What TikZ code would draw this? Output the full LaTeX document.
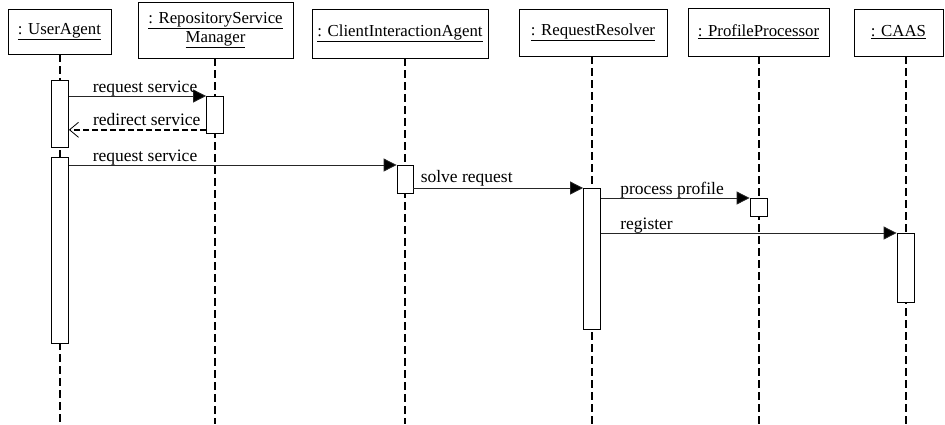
\documentclass[tikz,border=0pt]{standalone}
\usepackage{fontspec}
\setmainfont{Liberation Serif}
\usetikzlibrary{calc,positioning,arrows.meta}

\tikzset{
  objbox/.style={draw, line width=0.8pt, inner sep=2pt, align=center, font=\fontsize{16.8}{19}\selectfont},
  lifeline/.style={line width=2pt, dash pattern=on 8pt off 4pt},
  act/.style={draw, fill=white, line width=0.8pt, minimum width=17pt, inner sep=0pt, anchor=north},
  msg/.style={draw=black!85, line width=0.8pt, -{Triangle[length=13pt,width=13pt,fill=black]}},
  reply/.style={line width=1.4pt, dash pattern=on 6pt off 3pt, -{Straight Barb[length=9pt,width=15pt,line width=0.8pt]}},
  lbl/.style={anchor=base west, inner sep=0pt, yshift=4pt, font=\fontsize{17.5}{20}\selectfont},
}

\begin{document}
\begin{tikzpicture}[x=1pt,y=-1pt]
        \useasboundingbox (0,0) rectangle (945,424);
        % objects
        \node[objbox, minimum width=103pt, minimum height=45pt] (ua) at (59.5,31.5) {\underline{: UserAgent}};
        \node[objbox, minimum width=155pt, minimum height=56pt] (rsm) at (215.5,30) {\underline{: RepositoryService}\\\underline{Manager}};
        \node[objbox, minimum width=176pt, minimum height=49pt] (cia) at (400,33.5) {\underline{: ClientInteractionAgent}};
        \node[objbox, minimum width=148pt, minimum height=47pt] (rr) at (593,32.5) {\underline{: RequestResolver}};
        \node[objbox, minimum width=141pt, minimum height=48pt] (pp) at (758.5,32) {\underline{: ProfileProcessor}};
        \node[objbox, minimum width=89pt, minimum height=47pt] (caas) at (898.5,32.5) {\underline{: CAAS}};

        \foreach \n/\x in {ua/60,rsm/215,cia/405,rr/592,pp/759,caas/906}
          \draw[lifeline] (\n.south -| \x,0) -- (\x,424);

        % activations
        \node[act, minimum height=67pt] (ua1) at (60,80) {};
        \node[act, minimum height=186pt] (ua2) at (60,157) {};
        \node[act, minimum height=37pt] (rsm1) at (215,96) {};
        \node[act, minimum height=28pt, minimum width=16pt] (cia1) at (405,165) {};
        \node[act, minimum height=141pt] (rr1) at (592,188) {};
        \node[act, minimum height=18pt] (pp1) at (758.5,198) {};
        \node[act, minimum height=69pt] (caas1) at (905.5,233) {};

        \draw[msg] (ua1.east |- rsm1.north) -- (rsm1.north west) node[lbl, pos=0, xshift=23.5pt] {request service};
        \draw[reply] ($(rsm1.south west)+(0,-4)$) -- ($(ua1.east |- rsm1.south)+(0,-4)$) node[lbl, pos=1, xshift=23.5pt] {redirect service};
        \draw[msg] (ua2.east |- cia1.north) -- (cia1.north west) node[lbl, pos=0, xshift=23.5pt] {request service};
        \draw[msg] (cia1.east |- rr1.north) -- (rr1.north west) node[lbl, pos=0, xshift=7pt, yshift=2pt] {solve request};
        \draw[msg] (rr1.east |- pp1.north) -- (pp1.north west) node[lbl, pos=0, xshift=19pt] {process profile};
        \draw[msg] (rr1.east |- caas1.north) -- (caas1.north west) node[lbl, pos=0, xshift=19pt] {register};
      \end{tikzpicture}
\end{document}
